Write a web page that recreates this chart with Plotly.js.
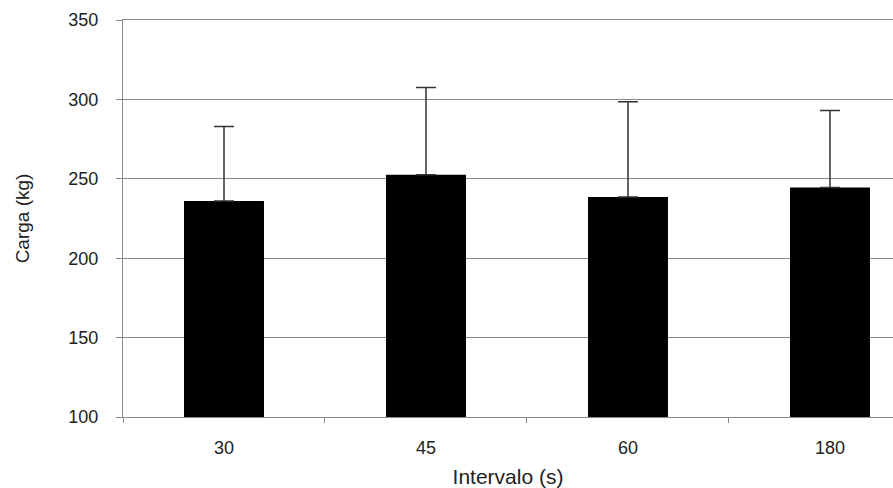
<!DOCTYPE html>
<html>
<head>
<meta charset="utf-8">
<script src="https://cdn.plot.ly/plotly-3.0.1.min.js"></script>
<style>html,body{margin:0;padding:0;background:#fff;}#chart{width:893px;height:488px;}</style>
</head>
<body>
<div id="chart"></div>
<script>
const categories = ['30', '45', '60', '180'];
const meanLoad = [236, 252.5, 238.5, 244.5];
const sdLoad = [47, 55, 60, 48.5];
const yTicks = [100, 150, 200, 250, 300, 350];

const trace = {
  type: 'bar',
  x: categories,
  y: meanLoad,
  base: 0,
  marker: {color: '#000000', line: {width: 0}},
  error_y: {
    type: 'data',
    symmetric: false,
    array: sdLoad,
    arrayminus: sdLoad.map(() => 0),
    color: '#333333',
    thickness: 1.5,
    width: 10
  },
  hoverinfo: 'none'
};

const layout = {
  width: 893,
  height: 488,
  margin: {l: 123, r: 0, t: 20, b: 71, pad: 0},
  paper_bgcolor: '#ffffff',
  plot_bgcolor: '#ffffff',
  showlegend: false,
  bargap: 0.604,
  font: {family: 'Liberation Sans, Arial, sans-serif', color: '#222222', size: 18},
  xaxis: {
    type: 'category',
    range: [-0.5, 3.312],
    showgrid: false,
    showline: true,
    mirror: true,
    linecolor: '#8a8a8a',
    linewidth: 1,
    ticks: 'outside',
    tickson: 'boundaries',
    ticklen: 5,
    tickcolor: '#8a8a8a',
    tickfont: {size: 18, color: '#222222'},
    ticklabelstandoff: 14,
    zeroline: false,
    title: {text: 'Intervalo (s)', font: {size: 21, color: '#222222'}, standoff: 18}
  },
  yaxis: {
    range: [100, 350],
    tickvals: yTicks,
    ticktext: yTicks.map(String),
    showgrid: true,
    gridcolor: '#8a8a8a',
    gridwidth: 1,
    showline: true,
    linecolor: '#8a8a8a',
    linewidth: 1,
    ticks: 'outside',
    ticklen: 6,
    tickcolor: '#8a8a8a',
    tickfont: {size: 18, color: '#222222'},
    ticklabelstandoff: 14,
    zeroline: false,
    title: {text: 'Carga (kg)', font: {size: 19, color: '#222222'}, standoff: 33}
  }
};

Plotly.newPlot('chart', [trace], layout, {staticPlot: true, displayModeBar: false});
</script>
</body>
</html>
